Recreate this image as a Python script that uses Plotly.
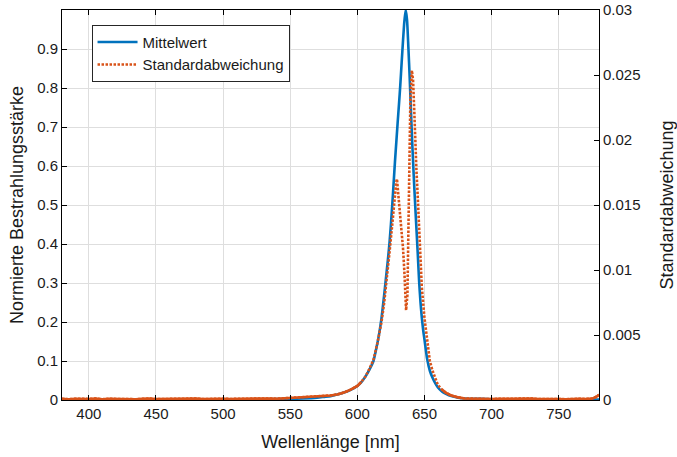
import plotly.graph_objects as go

# Mean spectrum (normalised irradiance)
wl_mean = [380, 400, 450, 500, 530, 550, 560, 570, 575, 580, 585, 590, 595, 600, 603, 606, 609,
           612, 614, 616, 618, 620, 622, 623, 624, 625, 626, 627, 628, 629, 630, 631, 632, 633,
           634, 635, 636, 637, 638, 639, 640, 641, 642, 643, 644, 645, 646, 647, 648, 649, 650,
           652, 654, 656, 658, 660, 663, 666, 670, 675, 680, 690, 700, 750, 780]
mean_vals = [0.001, 0.001, 0.001, 0.001, 0.002, 0.003, 0.004, 0.006, 0.008, 0.010, 0.014, 0.019,
             0.026, 0.036, 0.046, 0.060, 0.078, 0.100, 0.130, 0.165, 0.210, 0.270, 0.335, 0.368,
             0.405, 0.450, 0.500, 0.555, 0.610, 0.660, 0.710, 0.758, 0.808, 0.865, 0.920, 0.970,
             1.000, 0.975, 0.905, 0.825, 0.735, 0.650, 0.575, 0.505, 0.440, 0.375, 0.305, 0.252,
             0.212, 0.180, 0.155, 0.105, 0.075, 0.057, 0.043, 0.032, 0.022, 0.016, 0.010, 0.006,
             0.004, 0.003, 0.002, 0.001, 0.001]

# Standard deviation (right axis)
wl_std = [380, 385, 390, 395, 400, 405, 410, 415, 420, 425, 430, 435, 440, 445, 450, 455, 460,
          465, 470, 475, 480, 485, 490, 495, 500, 505, 510, 515, 520, 525, 530, 535, 540, 545,
          550, 555, 560, 565, 570, 575, 580, 585, 590, 595, 600, 603, 606, 609, 612, 615, 618,
          620, 622, 624, 626, 627, 628, 629, 629.5, 630.5, 632, 634, 635, 636.3, 637.3, 638, 639,
          639.5, 640.6, 641.5, 642.3, 643, 644, 645, 646, 646.5, 647, 648, 650, 652, 654, 656,
          658, 660, 663, 666, 670, 675, 680, 685, 690, 695, 700, 705, 710, 715, 720, 725, 730,
          735, 740, 745, 750, 755, 760, 765, 770, 775, 778, 780]
std_vals = [0.00009, 0.00006, 0.00010, 0.00007, 0.00008, 0.00011, 0.00006, 0.00009, 0.00007,
            0.00010, 0.00008, 0.00006, 0.00009, 0.00011, 0.00007, 0.00008, 0.00010, 0.00006,
            0.00009, 0.00008, 0.00011, 0.00007, 0.00009, 0.00006, 0.00010, 0.00008, 0.00009,
            0.00011, 0.00007, 0.00010, 0.00009, 0.00012, 0.00010, 0.00013, 0.00014, 0.00016,
            0.00019, 0.00022, 0.00026, 0.00030, 0.00035, 0.00043, 0.00057, 0.00080, 0.00108,
            0.00140, 0.00180, 0.00240, 0.00310, 0.00440, 0.00600, 0.00750, 0.00930, 0.01140,
            0.01350, 0.01470, 0.01590, 0.01680, 0.01700, 0.01590, 0.01380, 0.01170, 0.00990,
            0.00690, 0.00810, 0.01260, 0.02040, 0.02310, 0.02535, 0.02460, 0.02250, 0.02010,
            0.01770, 0.01560, 0.01320, 0.01140, 0.00990, 0.00870, 0.00630, 0.00450, 0.00300,
            0.00225, 0.00165, 0.00115, 0.00080, 0.00055, 0.00035, 0.00020, 0.00012, 0.00010,
            0.00008, 0.00011, 0.00007, 0.00009, 0.00010, 0.00006, 0.00009, 0.00008, 0.00011,
            0.00007, 0.00009, 0.00010, 0.00008, 0.00006, 0.00010, 0.00009, 0.00008, 0.00011,
            0.00025, 0.00040]

x_ticks = [400, 450, 500, 550, 600, 650, 700, 750]
y_ticks = [0, 0.1, 0.2, 0.3, 0.4, 0.5, 0.6, 0.7, 0.8, 0.9]
y2_ticks = [0, 0.005, 0.01, 0.015, 0.02, 0.025, 0.03]
y2_labels = ["0", "0.005", "0.01", "0.015", "0.02", "0.025", "0.03"]

BLUE = "#0072BD"
ORANGE = "#D95319"
FONT = "Liberation Sans, Arial, sans-serif"
TXT = "#1a1a1a"

fig = go.Figure()
fig.add_trace(go.Scatter(x=wl_mean, y=mean_vals, mode="lines", name="Mittelwert",
                         line=dict(color=BLUE, width=2.6, shape="spline", smoothing=0.6)))
fig.add_trace(go.Scatter(x=wl_std, y=std_vals, mode="lines", name="Standardabweichung",
                         yaxis="y2", line=dict(color=ORANGE, width=2.6, dash="2.5px,1.5px")))
# tails of the noisy std curve look solid in the original
left_x = [w for w in wl_std if w <= 603]
left_y = [s for w, s in zip(wl_std, std_vals) if w <= 603]
right_x = [w for w in wl_std if w >= 663]
right_y = [s for w, s in zip(wl_std, std_vals) if w >= 663]
fig.add_trace(go.Scatter(x=left_x + [None] + right_x, y=left_y + [None] + right_y,
                         mode="lines", yaxis="y2", showlegend=False, hoverinfo="skip",
                         line=dict(color=ORANGE, width=2.6)))

axis_common = dict(showline=True, linecolor="black", linewidth=1, ticks="inside",
                   ticklen=5, tickcolor="black", zeroline=False, automargin=False,
                   tickfont=dict(family=FONT, size=15, color=TXT))

fig.update_layout(
    width=677, height=457,
    margin=dict(l=62, r=78, t=10, b=57),
    paper_bgcolor="white", plot_bgcolor="white",
    font=dict(family=FONT, size=15, color=TXT),
    showlegend=True,
    legend=dict(x=0.055, y=0.962, xanchor="left", yanchor="top",
                bgcolor="white", bordercolor="#262626", borderwidth=1,
                font=dict(family=FONT, size=15, color=TXT),
                tracegroupgap=0, itemwidth=40),
    xaxis=dict(range=[380, 780], tickvals=x_ticks, mirror="ticks",
               showgrid=True, gridcolor="#dedede", gridwidth=1,
               title=dict(text="Wellenlänge [nm]", standoff=14,
                          font=dict(family=FONT, size=18, color=TXT)),
               **axis_common),
    yaxis=dict(range=[0, 1], tickvals=y_ticks, ticktext=[("%g" % v) for v in y_ticks],
               showgrid=True, gridcolor="#dedede", gridwidth=1, mirror=False,
               title=dict(text="Normierte Bestrahlungsstärke", standoff=8,
                          font=dict(family=FONT, size=18, color=TXT)),
               **axis_common),
    yaxis2=dict(range=[0, 0.03], tickvals=y2_ticks, ticktext=y2_labels,
                overlaying="y", side="right", showgrid=False,
                title=dict(text="Standardabweichung", standoff=22,
                           font=dict(family=FONT, size=18, color=TXT)),
                **axis_common),
)

fig.write_html("out.html")
